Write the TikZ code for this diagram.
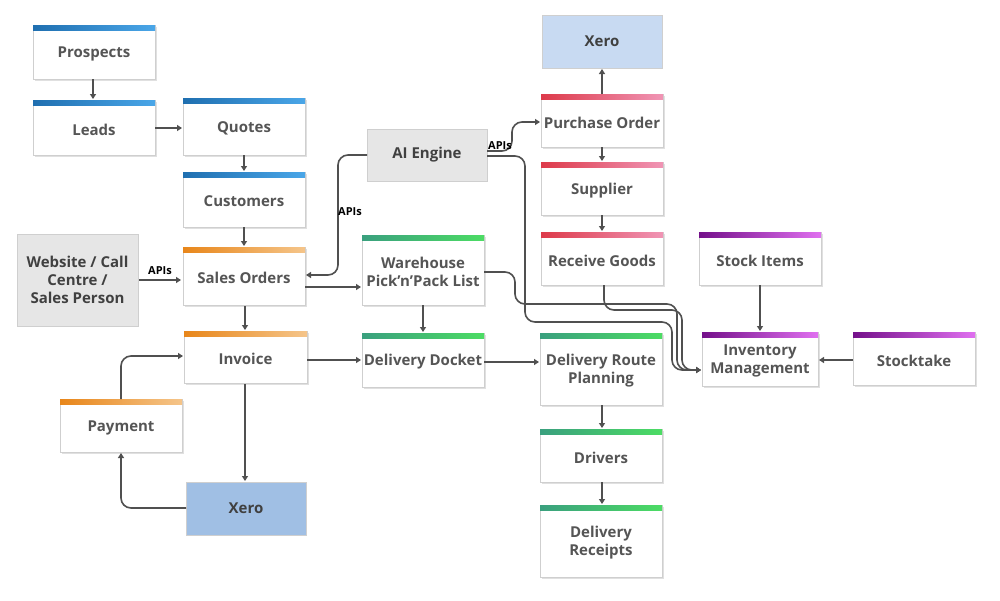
\documentclass[tikz,border=0pt]{standalone}
\usepackage{fontspec}
\setmainfont{Open Sans}
\usetikzlibrary{arrows.meta}
\definecolor{txt}{HTML}{555555}
\definecolor{ln}{HTML}{505050}
\definecolor{bd}{HTML}{CFCFCF}
\definecolor{graybox}{HTML}{E6E6E6}
\definecolor{xeroA}{HTML}{A0BFE4}
\definecolor{xeroB}{HTML}{C8DAF2}
\definecolor{bA}{HTML}{1F6FB0}\definecolor{bB}{HTML}{4AA6E8}
\definecolor{oA}{HTML}{E8861A}\definecolor{oB}{HTML}{F5C58A}
\definecolor{rA}{HTML}{DD3A4A}\definecolor{rB}{HTML}{F095B5}
\definecolor{gA}{HTML}{3AA07E}\definecolor{gB}{HTML}{4CDC64}
\definecolor{pA}{HTML}{74108A}\definecolor{pB}{HTML}{E070F0}
\tikzset{
 conn/.style={draw=ln,line width=1.6pt,-{Triangle[length=5pt,width=6pt]},rounded corners=10pt},
 lbl/.style={font=\bfseries\fontsize{15}{18}\selectfont,text=txt,align=center},
 api/.style={font=\bfseries\fontsize{11}{13}\selectfont,text=black},
}
\newcommand{\cbox}[8]{%
 \fill[black!12] (#2+1.5,#3+1.5) rectangle (#4+1.5,#5+1.5);
 \draw[bd,fill=white,line width=0.8pt] (#2,#3) rectangle (#4,#5);
 \shade[left color=#6,right color=#7] (#2,#3) rectangle (#4,#3+5);
 \node[lbl] (#1) at ({(#2+#4)/2},{(#3+#5)/2+2}) {#8};
}
\newcommand{\gbox}[7]{%
 \draw[bd,fill=#6,line width=0.8pt] (#2,#3) rectangle (#4,#5);
 \node[lbl,text=black!75] (#1) at ({(#2+#4)/2},{(#3+#5)/2}) {#7};
}
\begin{document}
\begin{tikzpicture}[x=1pt,y=-1pt]
\useasboundingbox (0,0) rectangle (1000,600);
\fill[white] (0,0) rectangle (1000,600);
\cbox{pros}{33}{25}{155}{79}{bA}{bB}{Prospects}
\cbox{leads}{33}{100}{155}{155}{bA}{bB}{Leads}
\cbox{quotes}{183}{98}{305}{155}{bA}{bB}{Quotes}
\cbox{cust}{183}{172}{305}{227}{bA}{bB}{Customers}
\gbox{web}{17}{234}{138}{326}{graybox}{Website / Call\\Centre /\\Sales Person}
\cbox{so}{183}{247}{305}{305}{oA}{oB}{Sales Orders}
\cbox{inv}{184}{331}{307}{383}{oA}{oB}{Invoice}
\cbox{pay}{60}{399}{182}{452}{oA}{oB}{Payment}
\gbox{xerob}{186}{482}{306}{535}{xeroA}{Xero}
\gbox{ai}{367}{129}{487}{181}{graybox}{AI Engine}
\cbox{wh}{362}{235}{484}{305}{gA}{gB}{Warehouse\\Pick’n’Pack List}
\cbox{dd}{362}{333}{484}{387}{gA}{gB}{Delivery Docket}
\gbox{xerot}{542}{15}{662}{68}{xeroB}{Xero}
\cbox{po}{541}{94}{663}{147}{rA}{rB}{Purchase Order}
\cbox{sup}{541}{162}{663}{215}{rA}{rB}{Supplier}
\cbox{rg}{541}{232}{663}{285}{rA}{rB}{Receive Goods}
\cbox{drp}{540}{333}{662}{405}{gA}{gB}{Delivery Route\\Planning}
\cbox{drv}{540}{429}{662}{482}{gA}{gB}{Drivers}
\cbox{rec}{540}{505}{662}{577}{gA}{gB}{Delivery\\Receipts}
\cbox{stock}{699}{232}{821}{285}{pA}{pB}{Stock Items}
\cbox{im}{702}{332}{818}{386}{pA}{pB}{Inventory\\Management}
\cbox{st}{853}{332}{975}{385}{pA}{pB}{Stocktake}

\draw[conn] (93,79) -- (93,99);
\draw[conn] (155,128) -- (182,128);
\draw[conn] (244,155) -- (244,171);
\draw[conn] (244,227) -- (244,246);
\draw[conn] (139,280) -- (181,280) node[api,midway,above=1pt] {APIs};
\draw[conn] (367,155) -- (338,155) -- (338,275) -- (306,275);
\node[api] (apis1) at (350,212) {APIs};
\draw[conn] (305,287) -- (361,287);
\draw[conn] (245,306) -- (245,330);
\draw[conn] (307,360) -- (361,360);
\draw[conn] (423,305) -- (423,332);
\draw[conn] (484,362) -- (539,362);
\draw[conn] (245,384) -- (245,481);
\draw[conn] (186,508) -- (121,508) -- (121,453);
\draw[conn] (121,399) -- (121,356) -- (183,356);
\draw[conn] (487,151) -- (512,151) -- (512,122) -- (540,122);
\node[api] (apis2) at (500,146) {APIs};
\draw[conn] (602,94) -- (602,69);
\draw[conn] (602,147) -- (602,161);
\draw[conn] (602,215) -- (602,231);
\draw[conn] (602,405) -- (602,428);
\draw[conn] (602,482) -- (602,504);
\draw[conn] (760,285) -- (760,331);
\draw[conn] (853,360) -- (819,360);
\draw[conn] (487,156) -- (525,156) -- (525,322) -- (672,322) -- (672,370) -- (701,370);
\draw[conn] (484,272) -- (515,272) -- (515,304) -- (677,304) -- (677,370) -- (701,370);
\draw[conn] (604,285) -- (604,310) -- (682,310) -- (682,370) -- (701,370);
\end{tikzpicture}
\end{document}
